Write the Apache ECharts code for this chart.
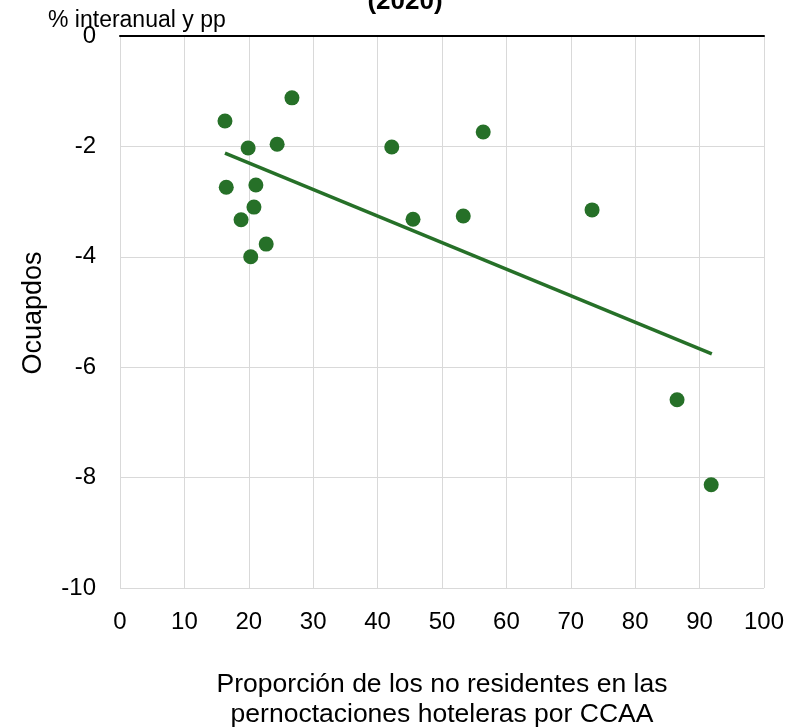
<!DOCTYPE html>
<html><head><meta charset="utf-8">
<script src="https://cdn.jsdelivr.net/npm/echarts@6/dist/echarts.min.js"></script>
<style>html,body{margin:0;padding:0;background:#fff}#c{width:802px;height:728px}</style>
</head><body><div id="c"></div>
<script>
const shareNonResidents = [16.3, 19.9, 24.4, 26.7, 16.5, 21.1, 20.8, 18.8, 22.7, 20.3, 42.2, 56.4, 45.5, 53.3, 73.3, 86.5, 91.8];
const employedChange   = [-1.54, -2.03, -1.96, -1.12, -2.74, -2.70, -3.10, -3.33, -3.77, -4.00, -2.01, -1.74, -3.32, -3.26, -3.15, -6.59, -8.13];
const trendX = [16.3, 91.9];
const trendY = [-2.12, -5.76];
const titleText = '(2020)';
const yAxisTitle = '% interanual y pp';
const yLabel = 'Ocuapdos';
const xAxisTitle = 'Proporción de los no residentes en las\npernoctaciones hoteleras por CCAA';

const green = '#267028';
const font = 'Liberation Sans, Arial, sans-serif';
const chart = echarts.init(document.getElementById('c'));
chart.setOption({
  animation: false,
  textStyle: {fontFamily: font},
  title: {text: titleText, left: 400, top: -16, textAlign: 'center',
    textStyle: {fontFamily: font, fontSize: 26, fontWeight: 'bold', color: '#000'}},
  grid: {left: 120, right: 38, top: 36, bottom: 140, outerBoundsMode: 'none', containLabel: false},
  xAxis: [{
    type: 'value', min: 0, max: 100, interval: 10, position: 'bottom',
    axisLine: {show: false}, axisTick: {show: false},
    axisLabel: {fontSize: 24, color: '#000', margin: 22, fontFamily: font},
    splitLine: {lineStyle: {color: '#d9d9d9', width: 1}},
    name: xAxisTitle, nameLocation: 'middle', nameGap: 82,
    nameTextStyle: {fontSize: 26.5, color: '#000', lineHeight: 30, fontFamily: font}
  }, {
    type: 'value', min: 0, max: 100, position: 'top',
    axisLine: {show: true, lineStyle: {color: '#000', width: 2}},
    axisTick: {show: false}, axisLabel: {show: false}, splitLine: {show: false}
  }],
  yAxis: {
    type: 'value', min: -10, max: 0, interval: 2,
    axisLine: {show: false}, axisTick: {show: false},
    axisLabel: {fontSize: 24, color: '#000', margin: 24, fontFamily: font},
    splitLine: {lineStyle: {color: '#d9d9d9', width: 1}}
  },
  graphic: [{
    type: 'text', rotation: Math.PI / 2, x: 34, y: 313,
    style: {text: yLabel, fontSize: 27, fill: '#000', fontFamily: font, textAlign: 'center', textVerticalAlign: 'middle'}
  }, {
    type: 'text', x: 48, y: 21,
    style: {text: yAxisTitle, fontSize: 23, fill: '#000', fontFamily: font, textAlign: 'left', textVerticalAlign: 'middle'}
  }],
  series: [{
    type: 'line', data: trendX.map((x, i) => [x, trendY[i]]),
    symbol: 'none', lineStyle: {color: green, width: 3.5}, z: 2
  }, {
    type: 'scatter', data: shareNonResidents.map((x, i) => [x, employedChange[i]]),
    symbolSize: 15, itemStyle: {color: green, opacity: 1}, z: 3
  }]
});
</script></body></html>
